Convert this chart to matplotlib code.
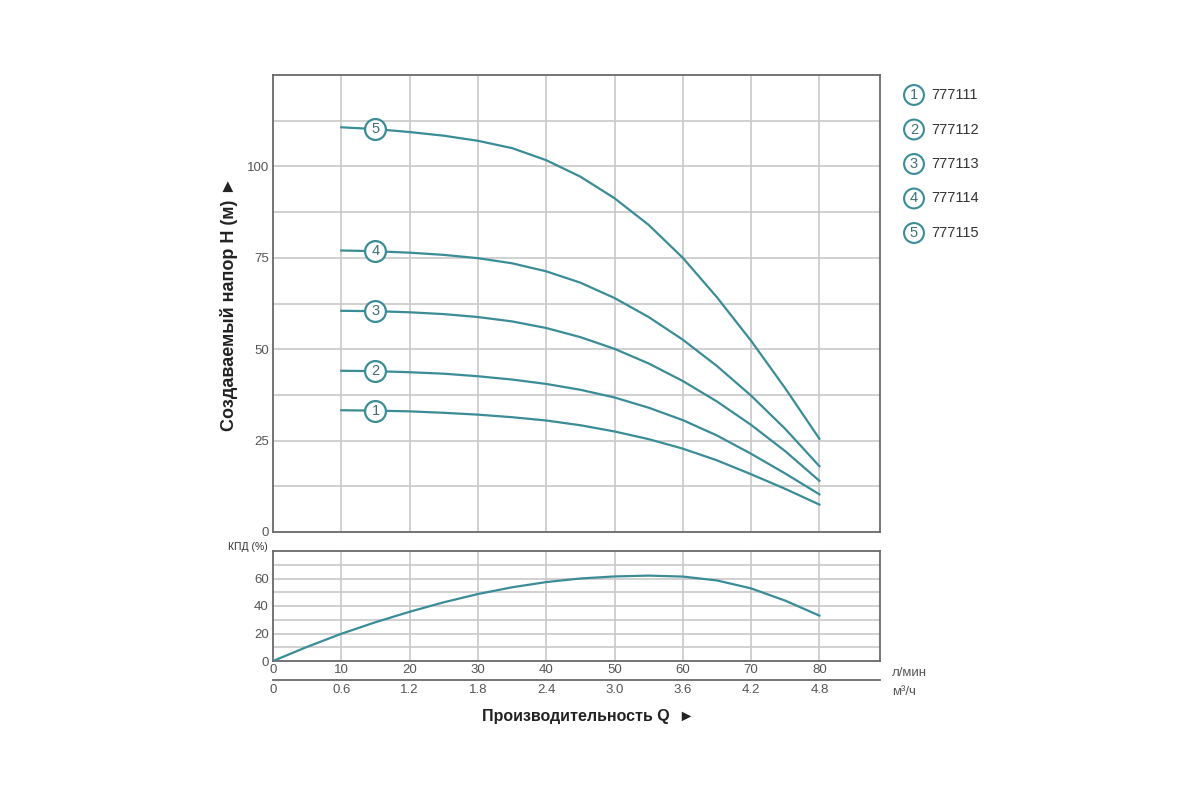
import matplotlib
matplotlib.use("Agg")
import matplotlib.pyplot as plt
import numpy as np

plt.rcParams['font.family'] = ['Liberation Sans', 'DejaVu Sans']

# ---- data ----
q_head = [10, 15, 20, 25, 30, 35, 40, 45, 50, 55, 60, 65, 70, 75, 80]
head_1 = [33.3, 33.2, 33.0, 32.6, 32.1, 31.4, 30.5, 29.2, 27.5, 25.4, 22.8, 19.6, 15.8, 11.8, 7.5]
head_2 = [44.1, 44.0, 43.7, 43.3, 42.6, 41.7, 40.5, 38.9, 36.8, 34.0, 30.6, 26.4, 21.4, 16.0, 10.3]
head_3 = [60.5, 60.4, 60.1, 59.6, 58.8, 57.6, 55.8, 53.3, 50.1, 46.1, 41.3, 35.7, 29.3, 22.1, 14.0]
head_4 = [77.0, 76.8, 76.4, 75.8, 74.9, 73.5, 71.3, 68.2, 64.0, 58.8, 52.6, 45.4, 37.3, 28.2, 18.0]
head_5 = [110.7, 110.2, 109.4, 108.4, 107.0, 105.0, 101.7, 97.2, 91.3, 84.0, 75.0, 64.2, 52.3, 39.3, 25.5]
curve_ids = ['1', '2', '3', '4', '5']
models = ['777111', '777112', '777113', '777114', '777115']
label_q = 15

q_eff = [0, 5, 10, 15, 20, 25, 30, 35, 40, 45, 50, 55, 60, 65, 70, 75, 80]
eff = [0, 10.3, 19.8, 28.2, 35.8, 42.7, 48.7, 53.6, 57.4, 60.0, 61.5, 62.1, 61.4, 58.6, 52.8, 43.9, 33.0]

q_ticks = [0, 10, 20, 30, 40, 50, 60, 70, 80]
m3h_labels = ['0', '0.6', '1.2', '1.8', '2.4', '3.0', '3.6', '4.2', '4.8']
head_ticks = [0, 25, 50, 75, 100]
eff_ticks = [0, 20, 40, 60]

LINE = '#3a8c97'
NUM = '#3d6f76'
GRID = '#c8c8c8'
SPINE = '#6a6a6a'
TXT = '#555555'

fig = plt.figure(figsize=(12, 8), dpi=100)
fig.patch.set_facecolor('white')

ax = fig.add_axes([273/1200, 1-532/800, (880-273)/1200, (532-75)/800])
ax2 = fig.add_axes([273/1200, 1-661/800, (880-273)/1200, (661-551)/800])

xmax = (880-273)/6.83

for a in (ax, ax2):
    a.set_xlim(0, xmax)
    for s in a.spines.values():
        s.set_color(SPINE)
        s.set_linewidth(1.3)
    a.tick_params(length=0, labelsize=9.5, colors=TXT, pad=3)

# top chart
ax.set_ylim(0, 125)
ax.set_yticks(head_ticks)
ax.set_yticks(np.arange(12.5, 125, 25), minor=True)
ax.tick_params(which='minor', length=0)
ax.set_xticks(q_ticks)
ax.set_xticklabels([])
ax.grid(True, which='both', color=GRID, linewidth=1.2)
ax.set_axisbelow(True)

heads = [head_1, head_2, head_3, head_4, head_5]
for cid, h in zip(curve_ids, heads):
    ax.plot(q_head, h, color=LINE, linewidth=1.6, zorder=3, solid_joinstyle='round')
    yv = h[q_head.index(label_q)]
    ax.plot([label_q], [yv], marker='o', markersize=15, markerfacecolor='white',
            markeredgecolor=LINE, markeredgewidth=1.6, zorder=4)
    ax.text(label_q, yv, cid, ha='center', va='center', fontsize=10.5,
            color=NUM, zorder=5)

ax.set_ylabel('Создаваемый напор Н (м) ►', fontsize=13, fontweight='bold',
              color='#222222', labelpad=6)

# legend on the right
for i, (cid, m) in enumerate(zip(curve_ids, models)):
    y = 1 - (95 + i*34.5)/800
    fig.text(914/1200, y, cid, ha='center', va='center', fontsize=10.5, color=NUM,
             bbox=dict(boxstyle='circle,pad=0.2', fc='white', ec=LINE, lw=1.5))
    fig.text(931/1200, y, m, ha='left', va='center', fontsize=10.5, color='#333333')

# efficiency chart
ax2.set_ylim(0, 80)
ax2.set_yticks(eff_ticks)
ax2.set_yticks(np.arange(10, 80, 20), minor=True)
ax2.tick_params(which='minor', length=0)
ax2.set_xticks(q_ticks)
ax2.set_xticklabels([str(v) for v in q_ticks])
ax2.grid(True, which='both', color=GRID, linewidth=1.2)
ax2.set_axisbelow(True)
ax2.plot(q_eff, eff, color=LINE, linewidth=1.6, zorder=3, solid_joinstyle='round')
ax2.tick_params(axis='x', pad=2)

fig.text(248/1200, 1-547/800, 'КПД (%)', ha='center', va='center', fontsize=7.5,
         color='#333333')

sec = ax2.secondary_xaxis(-0.175, functions=(lambda x: x*0.06, lambda x: x/0.06))
sec.set_xticks([float(v) for v in m3h_labels])
sec.set_xticklabels(m3h_labels)
sec.tick_params(length=0, labelsize=9.5, colors=TXT, pad=3)
sec.spines['bottom'].set_color(SPINE)
sec.spines['bottom'].set_linewidth(1.3)

fig.text(892/1200, 1-673/800, 'л/мин', ha='left', va='center', fontsize=9.5, color=TXT)
fig.text(892/1200, 1-692/800, 'м³/ч', ha='left', va='center', fontsize=9.5, color=TXT)

fig.text(588/1200, 1-716/800, 'Производительность Q  ►', ha='center', va='center',
         fontsize=11.5, fontweight='bold', color='#222222')

fig.savefig('out.png', dpi=100, facecolor='white')
